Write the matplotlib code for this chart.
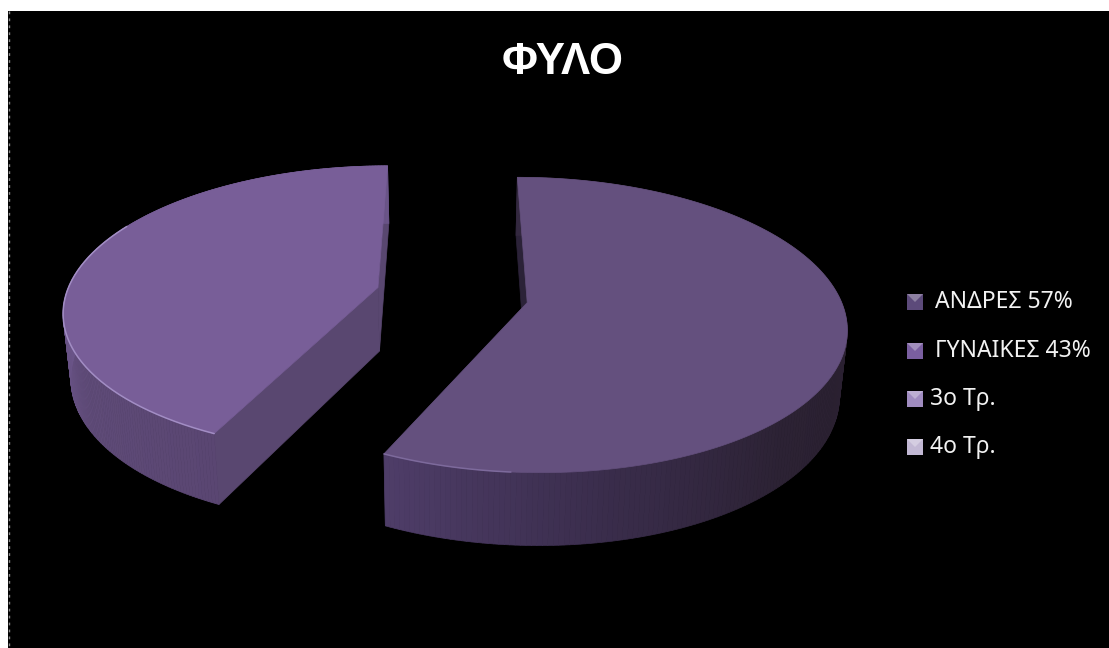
import numpy as np
import matplotlib
matplotlib.use("Agg")
import matplotlib.pyplot as plt
from matplotlib.collections import PolyCollection
from matplotlib.colors import LinearSegmentedColormap, to_rgb
from matplotlib.patches import Polygon, Rectangle

title = 'ΦΥΛΟ'
slice_names = ['ΑΝΔΡΕΣ', 'ΓΥΝΑΙΚΕΣ']
slice_shares = [57, 43]
extra_names = ['3ο Τρ.', '4ο Τρ.']

top_colors = ['#64507e', '#785e98']
cut_colors = ['#2b2238', '#594770']
side_stops = [
    ['#33283f', '#2c2233', '#2a2030', '#2a2030', '#2c2234', '#3a2d4c', '#4e3d68'],
    ['#5a4672', '#5f4b78', '#6a5488', '#6a5488', '#6a5488', '#6a5488'],
]
# where the rim highlight runs, as a fraction of each slice's sweep
rim_spans = [(0.9, 1.0), (0.0, 0.6)]
rim_colors = ['#7d6a9c', '#a28dc4']
legend_colors = ['#5c4a7a', '#7a5fa0', '#a08cc0', '#c2b8d4']

# perspective of the pie plane, in pixels
VP_X, Y0, RX, RY, K = 452, 295, 312, 142, 0.15
EXPLODE = 0.245
DROP, SHRINK_X, STRETCH_Y = 64, 0.98, 1.05


def project(u, v, lower=False):
    w = 1 + K * v
    if lower:
        return VP_X + SHRINK_X * RX * u / w, Y0 + DROP - STRETCH_Y * RY * v / w
    return VP_X + RX * u / w, Y0 - RY * v / w


def rim(t, off, lower=False):
    # t in radians, clockwise from the back of the pie
    return np.column_stack(project(off[0] + np.sin(t), off[1] + np.cos(t), lower))


def draw_slice(ax, start, sweep, top, cut, stops, rim_color, rim_span):
    mid = np.radians(start + sweep / 2)
    off = (EXPLODE * np.sin(mid), EXPLODE * np.cos(mid))
    t = np.radians(np.linspace(start, start + sweep, 240))
    upper, lower = rim(t, off), rim(t, off, True)
    apex = np.array(project(off[0], off[1]))
    apex_low = np.array(project(off[0], off[1], True))

    # cut faces go first, the top face hides whatever is behind it
    for i in (0, -1):
        ax.add_patch(Polygon([apex, upper[i], lower[i], apex_low], fc=cut, ec=cut, lw=0.5))

    cmap = LinearSegmentedColormap.from_list('side', stops)
    quads = [[upper[i], upper[i + 1], lower[i + 1], lower[i]] for i in range(len(t) - 1)]
    cols = cmap(np.linspace(0, 1, len(quads)))
    ax.add_collection(PolyCollection(quads, facecolors=cols, edgecolors=cols, linewidths=0.5))

    ax.add_patch(Polygon(np.vstack([apex, upper]), fc=top, ec=top, lw=0.5))

    # thin highlight on the front of the rim
    a, b = int(rim_span[0] * 239), int(rim_span[1] * 239) + 1
    ax.plot(upper[a:b, 0], upper[a:b, 1], color=rim_color, lw=1.1, solid_capstyle='round')


def draw_key(ax, x, y, size, color):
    base = np.array(to_rgb(color))
    light = base + (1 - base) * 0.3
    tl, tr = (x, y), (x + size, y)
    c = (x + size / 2, y + size / 2)
    ax.add_patch(Rectangle(tl, size, size, fc=base, ec='none'))
    ax.add_patch(Polygon([tl, tr, c], fc=light, ec='none'))


fig = plt.figure(figsize=(11.09, 6.48), dpi=100, facecolor='white')
ax = fig.add_axes([0, 0, 1, 1])
ax.set_xlim(0, 1109)
ax.set_ylim(648, 0)
ax.axis('off')

ax.add_patch(Rectangle((8, 11), 1101, 637, fc='black', ec='none'))
ax.plot([8.5, 8.5], [11, 648], color='#8a8a8a', lw=1, ls=(0, (2, 3)))

ax.text(562.5, 63, title, color='white', fontsize=31.5, fontweight='bold',
        family='Liberation Sans', ha='center', va='center')

angle = 0
for i, share in enumerate(slice_shares):
    sweep = 360 * share / sum(slice_shares)
    draw_slice(ax, angle, sweep, top_colors[i], cut_colors[i], side_stops[i],
               rim_colors[i], rim_spans[i])
    angle += sweep

labels = [f'{n} {s}%' for n, s in zip(slice_names, slice_shares)] + extra_names
key_y = [294, 343, 391, 439]
text_x = [935, 935, 930, 930]
for label, color, y, tx in zip(labels, legend_colors, key_y, text_x):
    draw_key(ax, 907, y, 16, color)
    ax.text(tx, y + 8, label, color='#f2f2f2', fontsize=16.5, family='Noto Sans',
            ha='left', va='center')

fig.savefig('out.png', dpi=100, facecolor='white')
